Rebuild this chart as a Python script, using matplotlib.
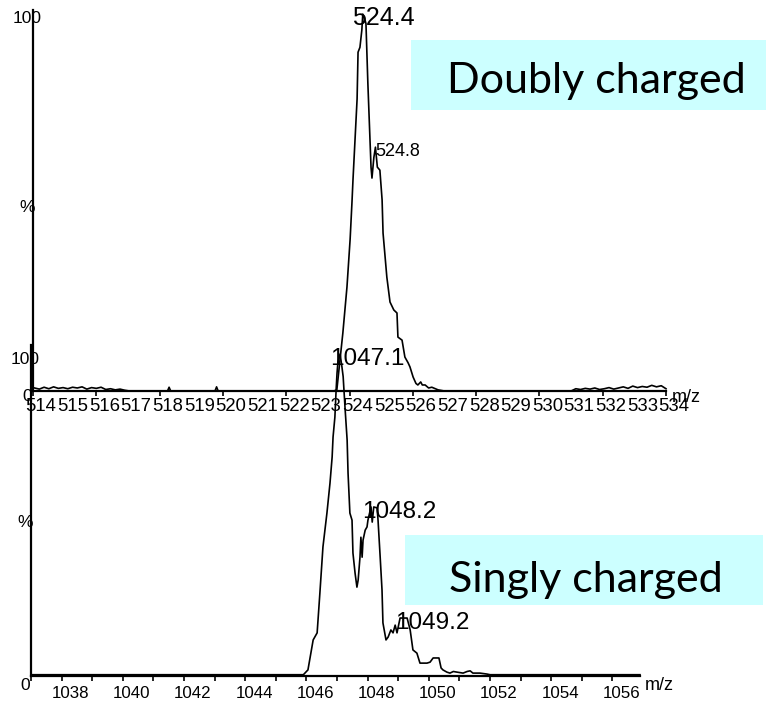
import matplotlib
matplotlib.use('Agg')
import matplotlib.pyplot as plt
from matplotlib.patches import Rectangle
from matplotlib.transforms import ScaledTranslation

plt.rcParams['font.family'] = ['Liberation Sans', 'DejaVu Sans']

W, H, DPI = 779, 706, 100

# doubly charged ion (upper trace), m/z vs relative intensity %
mz_2 = [514.05, 514.2, 514.35, 514.5, 514.65, 514.8, 514.95, 515.1, 515.25, 515.4,
        515.55, 515.7, 515.85, 516.0, 516.15, 516.3, 516.45, 516.6, 516.75, 516.9,
        517.05, 518.25, 518.3, 518.35, 519.75, 519.8, 519.85,
        523.5, 523.6, 523.79, 523.92, 524.02, 524.08, 524.11, 524.24, 524.27, 524.33,
        524.39, 524.42, 524.47, 524.52, 524.58, 524.68, 524.71, 524.77, 524.82, 524.88,
        524.96, 525.03, 525.06, 525.18, 525.28, 525.4, 525.5, 525.53, 525.66, 525.75,
        525.85, 525.91, 526.01, 526.1, 526.16, 526.25, 526.3, 526.39, 526.5, 526.6,
        526.8, 527.0,
        531.0, 531.15, 531.3, 531.45, 531.6, 531.75, 531.9, 532.05, 532.2, 532.35,
        532.5, 532.65, 532.8, 532.95, 533.1, 533.25, 533.4, 533.55, 533.7, 533.85, 534.0]
int_2 = [0.8, 0.5, 1.0, 0.6, 1.1, 0.7, 0.9, 0.6, 1.0, 0.8,
         1.1, 0.5, 0.9, 0.7, 1.0, 0.4, 0.6, 0.3, 0.5, 0.2,
         0.0, 0.0, 1.0, 0.0, 0.0, 1.1, 0.0,
         0.0, 0.3, 15.4, 27.6, 40.3, 50.4, 56.0, 77.5, 89.9, 91.2,
         95.8, 100.0, 99.0, 97.5, 81.7, 59.4, 56.5, 62.0, 64.7, 59.4,
         58.6, 50.7, 41.9, 30.2, 23.6, 21.5, 20.7, 14.3, 13.5, 9.0,
         7.5, 6.4, 3.7, 2.0, 1.6, 2.4, 1.6, 1.6, 0.8, 1.0,
         0.3, 0.0,
         0.0, 0.6, 0.4, 0.7, 0.5, 0.8, 0.4, 0.6, 0.9, 0.5,
         0.8, 1.1, 0.7, 1.3, 0.9, 1.2, 1.0, 1.5, 1.1, 1.4, 0.6]

# singly charged ion (lower trace)
mz_1 = [1037.0, 1045.9, 1045.95, 1046.05, 1046.22, 1046.35, 1046.44, 1046.54, 1046.67, 1046.77,
        1046.84, 1046.87, 1046.93, 1046.97, 1047.0, 1047.03, 1047.1, 1047.16, 1047.2, 1047.26,
        1047.33, 1047.36, 1047.42, 1047.49, 1047.52, 1047.59, 1047.65, 1047.69, 1047.75, 1047.78,
        1047.82, 1047.85, 1047.92, 1047.98, 1048.01, 1048.11, 1048.15, 1048.2, 1048.31, 1048.34,
        1048.41, 1048.47, 1048.5, 1048.6, 1048.67, 1048.76, 1048.83, 1048.9, 1048.96, 1049.06,
        1049.16, 1049.2, 1049.29, 1049.39, 1049.48, 1049.61, 1049.71, 1049.81, 1049.94, 1050.04,
        1050.14, 1050.27, 1050.33, 1050.4, 1050.46, 1050.59, 1050.69, 1050.8, 1050.92, 1051.12,
        1051.25, 1051.35, 1051.44, 1051.67, 1051.9, 1052.0, 1056.9]
int_1 = [0.4, 0.4, 0.9, 1.9, 11.2, 13.4, 25.8, 40.1, 50.6, 59.9,
         68.0, 74.2, 80.4, 88.8, 94.1, 97.5, 100.0, 96.0, 93.0, 83.5,
         73.3, 63.0, 50.6, 48.4, 38.2, 31.9, 27.6, 29.8, 36.9, 43.1,
         36.9, 42.2, 45.3, 46.3, 48.4, 52.5, 47.8, 52.5, 52.2, 48.4,
         36.9, 26.7, 16.5, 11.2, 12.1, 14.3, 13.4, 15.8, 13.4, 18.0,
         18.0, 18.0, 18.0, 14.3, 8.1, 7.1, 4.0, 4.0, 4.0, 4.3,
         5.6, 5.6, 5.6, 2.5, 1.9, 1.2, 0.9, 1.4, 1.2, 0.9,
         1.4, 1.6, 0.9, 0.9, 0.6, 0.4, 0.4]

peak_mz_2 = [524.4, 524.8]
peak_int_2 = [100.0, 64.7]
peak_mz_1 = [1047.1, 1048.2, 1049.2]
peak_int_1 = [100.0, 52.5, 18.0]

fig = plt.figure(figsize=(W / DPI, H / DPI), dpi=DPI)


def px_axes(x0, y0, x1, y1):
    # axes placed by pixel box (top-left origin)
    return fig.add_axes([x0 / W, 1 - y1 / H, (x1 - x0) / W, (y1 - y0) / H])


def shift_labels(ax, dx):
    off = ScaledTranslation(dx / DPI, 0, fig.dpi_scale_trans)
    for lab in ax.xaxis.get_majorticklabels():
        lab.set_transform(lab.get_transform() + off)


def style(ax):
    ax.set_facecolor('none')
    for s in ['top', 'right']:
        ax.spines[s].set_visible(False)
    ax.spines['left'].set_linewidth(1.6)
    ax.spines['bottom'].set_linewidth(1.6)
    ax.set_yticks([])


def ylabels(ax, items):
    for txt, v, dy in items:
        ax.annotate(txt, xy=(0, v), xycoords=ax.get_yaxis_transform(),
                    xytext=(-6, -dy), textcoords='offset pixels',
                    ha='center', va='center', fontsize=12.5)


# upper panel
ax2 = px_axes(33, 10, 666, 391)
style(ax2)
ax2.plot(mz_2, int_2, color='black', lw=1.2, clip_on=False)
ax2.set_xlim(514, 534)
ax2.set_ylim(0, 101.1)
ax2.set_xticks(range(514, 535))
ax2.set_xticks(range(514, 535, 2), minor=True)
ax2.xaxis.remove_overlapping_locs = False
ax2.tick_params(axis='x', which='major', length=0, pad=5, labelsize=13.3)
ax2.tick_params(axis='x', which='minor', length=3.5, width=1.2)
shift_labels(ax2, 8)
ylabels(ax2, [('100', 100, 4), ('%', 48.8, 0), ('0', 0, 6)])
ax2.annotate('m/z', xy=(1, 0), xycoords='axes fraction', xytext=(6, -7),
             textcoords='offset pixels', ha='left', va='center', fontsize=13)
for mz, it, fs, dx in zip(peak_mz_2, peak_int_2, [18, 13], [-10, 0]):
    ax2.annotate(f'{mz:.1f}', xy=(mz, it), xytext=(dx, -4), textcoords='offset pixels',
                 ha='left', va='center', fontsize=fs, annotation_clip=False)

# lower panel
ax1 = px_axes(31, 345, 640, 676)
style(ax1)
ax1.plot(mz_1, int_1, color='black', lw=1.2, clip_on=False)
ax1.set_xlim(1037, 1056.9)
ax1.set_ylim(0, 102.8)
ax1.set_xticks(range(1038, 1057, 2))
ax1.set_xticks(range(1037, 1057), minor=True)
ax1.tick_params(axis='x', which='both', length=3.5, width=1.2, pad=4, labelsize=12.2)
shift_labels(ax1, 9)
ylabels(ax1, [('100', 100, 5), ('%', 47.8, 0), ('0', 0, 9)])
ax1.annotate('m/z', xy=(1, 0), xycoords='axes fraction', xytext=(5, -9),
             textcoords='offset pixels', ha='left', va='center', fontsize=13)
for mz, it, dx in zip(peak_mz_1, peak_int_1, [-10, -12, -9]):
    ax1.annotate(f'{mz:.1f}', xy=(mz, it), xytext=(dx, -5), textcoords='offset pixels',
                 ha='left', va='center', fontsize=17.5, annotation_clip=False)


def label_box(x0, y0, x1, y1, text, cx, base):
    fig.add_artist(Rectangle((x0 / W, 1 - y1 / H), (x1 - x0) / W, (y1 - y0) / H,
                             transform=fig.transFigure, facecolor='#ccffff',
                             edgecolor='none', zorder=0))
    fig.text(cx / W, 1 - base / H, text, ha='center', va='baseline',
             fontsize=31, family=['Lato', 'DejaVu Sans'])


label_box(411, 40, 766, 110, 'Doubly charged', 596, 93)
label_box(405, 535, 763, 605, 'Singly charged', 586, 592)

fig.savefig('out.png', dpi=DPI)
